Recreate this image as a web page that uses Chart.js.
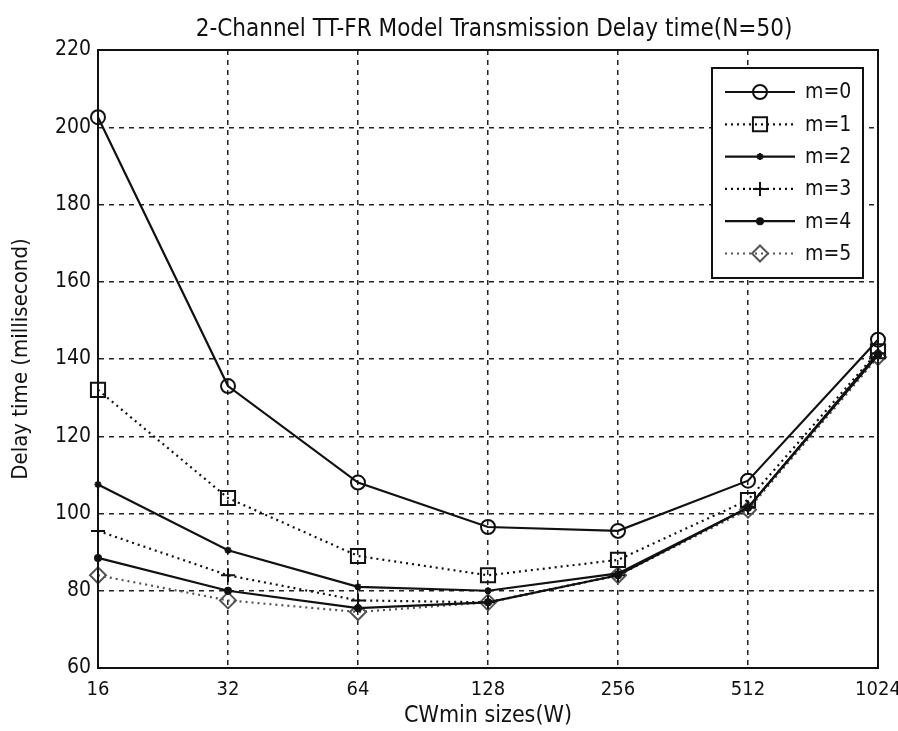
<!DOCTYPE html>
<html>
<head>
<meta charset="utf-8">
<script src="https://cdn.jsdelivr.net/npm/chart.js@4/dist/chart.umd.min.js"></script>
<style>
  html, body { margin: 0; padding: 0; background: #fff; }
  canvas { display: block; }
</style>
</head>
<body>
<canvas id="delayChart" width="898" height="731"></canvas>
<script>
// values
const cwSizes = ["16", "32", "64", "128", "256", "512", "1024"];
const seriesNames = ["m=0", "m=1", "m=2", "m=3", "m=4", "m=5"];
const m0 = [202.6, 133, 108, 96.5, 95.5, 108.5, 145];
const m1 = [132, 104, 89, 84, 88, 103.5, 142];
const m2 = [107.5, 90.5, 81, 80, 84.5, 101.5, 141.5];
const m3 = [95.5, 84, 77.5, 77, 84, 101.5, 141.5];
const m4 = [88.5, 80, 75.5, 77, 84, 101.5, 141];
const m5 = [84, 77.5, 74.5, 77, 84, 101, 140.5];
const yTicks = [60, 80, 100, 120, 140, 160, 180, 200, 220];

const FONT = "'Liberation Sans Narrow', 'DejaVu Sans Condensed', 'Liberation Sans', Arial, sans-serif";

function makeSet(label, data, dash, style, radius, fill, color) {
    return {
        label: label,
        data: data,
        borderColor: color || '#111',
        borderWidth: 2.2,
        borderDash: dash,
        tension: 0,
        clip: false,
        pointStyle: style,
        pointRadius: radius,
        pointBorderColor: color || '#111',
        pointBackgroundColor: fill ? (color || '#111') : 'rgba(0,0,0,0)',
        pointBorderWidth: 2
    };
}

const datasets = [
    makeSet(seriesNames[0], m0, [], 'circle', 7, false),
    makeSet(seriesNames[1], m1, [2, 4], 'rect', 10, false),
    makeSet(seriesNames[2], m2, [], 'star', 3.5, true),
    makeSet(seriesNames[3], m3, [2, 4], 'cross', 7, false),
    makeSet(seriesNames[4], m4, [], 'circle', 3, true),
    makeSet(seriesNames[5], m5, [2, 4], 'rectRot', 8, false, '#555')
];

// white page, frame round the plot, title and the boxed legend
const paperPlugin = {
    id: 'paper',
    beforeDraw(chart) {
        const ctx = chart.ctx;
        ctx.save();
        ctx.fillStyle = '#fff';
        ctx.fillRect(0, 0, chart.width, chart.height);
        ctx.restore();
    },
    afterDraw(chart) {
        const ctx = chart.ctx;
        const a = chart.chartArea;
        ctx.save();
        ctx.strokeStyle = '#111';
        ctx.lineWidth = 2;
        ctx.setLineDash([]);
        ctx.strokeRect(a.left, a.top, a.right - a.left, a.bottom - a.top);

        // title
        ctx.fillStyle = '#111';
        ctx.font = "24px " + FONT;
        ctx.textAlign = 'center';
        ctx.textBaseline = 'middle';
        ctx.fillText('2-Channel TT-FR Model Transmission Delay time(N=50)', 494, 30);

        // legend
        const bx = 712, by = 68, bw = 151, bh = 210;
        ctx.fillStyle = '#fff';
        ctx.fillRect(bx, by, bw, bh);
        ctx.strokeRect(bx, by, bw, bh);
        chart.data.datasets.forEach(function(ds, i) {
            const y = 92 + i * 32.3;
            ctx.save();
            ctx.strokeStyle = ds.borderColor;
            ctx.lineWidth = ds.borderWidth;
            ctx.setLineDash(ds.borderDash);
            ctx.beginPath();
            ctx.moveTo(725, y);
            ctx.lineTo(795, y);
            ctx.stroke();
            ctx.setLineDash([]);
            ctx.fillStyle = ds.pointBackgroundColor;
            ctx.strokeStyle = ds.pointBorderColor;
            ctx.lineWidth = ds.pointBorderWidth;
            Chart.helpers.drawPoint(ctx, {
                pointStyle: ds.pointStyle,
                radius: ds.pointRadius,
                rotation: 0,
                borderWidth: ds.pointBorderWidth
            }, 760, y);
            ctx.restore();
            ctx.fillStyle = '#111';
            ctx.font = "21px " + FONT;
            ctx.textAlign = 'left';
            ctx.fillText(ds.label, 805, y + 1);
        });
        ctx.restore();
    }
};

new Chart(document.getElementById('delayChart').getContext('2d'), {
    type: 'line',
    data: {
        labels: cwSizes,
        datasets: datasets
    },
    options: {
        responsive: false,
        animation: false,
        layout: { padding: { top: 50, right: 20, left: 0, bottom: 0 } },
        plugins: {
            legend: { display: false },
            tooltip: { enabled: false },
            title: { display: false }
        },
        scales: {
            x: {
                type: 'category',
                offset: false,
                afterFit(scale) {
                    scale.height = 63;
                    scale.paddingLeft = 0;
                    scale.paddingRight = 0;
                },
                grid: { color: '#222', lineWidth: 1.5, drawTicks: false },
                border: { display: true, color: '#111', width: 2, dash: [5, 5] },
                ticks: { color: '#111', padding: 10, maxRotation: 0, font: { size: 20, family: FONT } },
                title: {
                    display: true,
                    text: 'CWmin sizes(W)',
                    color: '#111',
                    padding: { top: 0, bottom: 1 },
                    font: { size: 23, family: FONT }
                }
            },
            y: {
                min: yTicks[0],
                max: yTicks[yTicks.length - 1],
                afterFit(scale) { scale.width = 98; },
                afterBuildTicks(scale) { scale.ticks = yTicks.map(function(v) { return { value: v }; }); },
                grid: { color: '#222', lineWidth: 1.5, drawTicks: false },
                border: { display: true, color: '#111', width: 2, dash: [5, 5] },
                ticks: { color: '#111', padding: 7, font: { size: 21, family: FONT } },
                title: {
                    display: true,
                    text: 'Delay time (millisecond)',
                    color: '#111',
                    padding: { top: 8, bottom: 0 },
                    font: { size: 22, family: FONT }
                }
            }
        }
    },
    plugins: [paperPlugin]
});
</script>
</body>
</html>
